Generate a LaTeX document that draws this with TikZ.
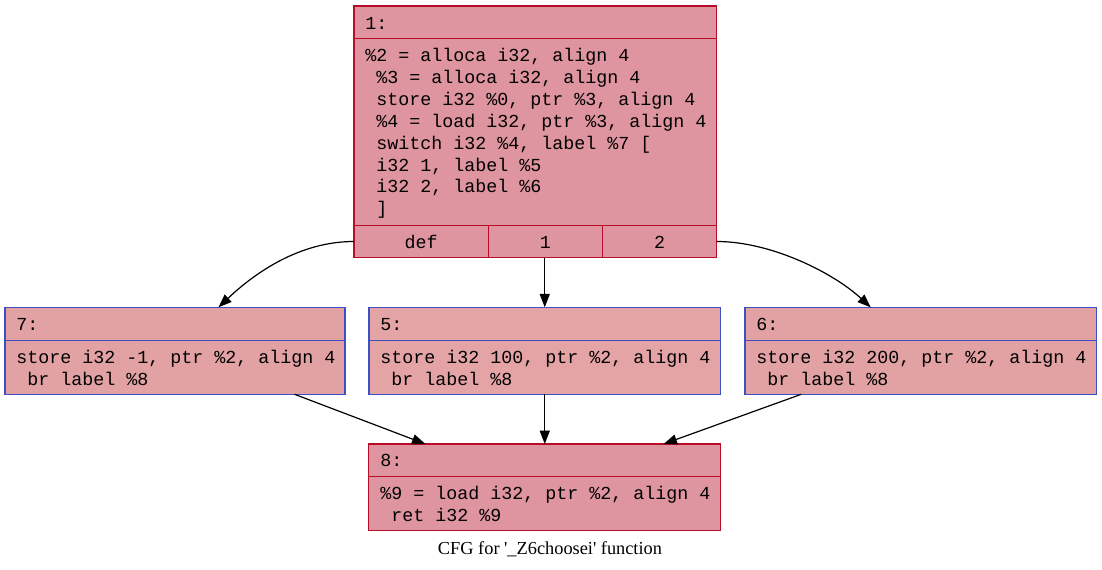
\documentclass[tikz,border=0pt]{standalone}
\usepackage{fontspec}
\newfontfamily\codefont{Liberation Mono}
\newfontfamily\capfont{Liberation Serif}
\usetikzlibrary{arrows.meta}
\definecolor{redborder}{HTML}{B70D28}
\definecolor{blueborder}{HTML}{3D50C3}
\definecolor{redfill}{RGB}{223,149,160}
\definecolor{midfill}{RGB}{226,161,163}
\definecolor{lightfill}{RGB}{228,164,166}
\newcommand\codelines[1]{\vtop{\baselineskip=16.4pt\lineskip=0pt\lineskiplimit=-20pt #1}}
\newcommand\ind{\phantom{x}}
\tikzset{
  block/.style={draw, rectangle, inner sep=0pt, outer sep=0pt, anchor=north west, line width=0.8pt},
  hotblock/.style={block, draw=redborder, fill=redfill},
  warmblock/.style={block, draw=blueborder, fill=midfill},
  coolblock/.style={block, draw=blueborder, fill=lightfill},
  portcell/.style={draw=redborder, fill=redfill, rectangle, inner sep=0pt, outer sep=0pt, line width=0.8pt,
    font=\codefont\fontsize{13.75pt}{16.4pt}\selectfont, text height=10.5pt, text depth=0.75pt},
  code/.style={anchor=base west, inner sep=0pt, font=\codefont\fontsize{13.75pt}{16.4pt}\selectfont},
  edge/.style={draw, line width=0.9pt, -{Triangle[length=10pt,width=7.5pt]}}
}
\begin{document}
\begin{tikzpicture}[x=0.75pt,y=-0.75pt]
\useasboundingbox[fill=white] (0,0) rectangle (1102,570);

% block 1
\node[hotblock, minimum width=362.7*0.75pt, minimum height=251.7*0.75pt] (n1) at (354,6) {};
\draw[redborder, line width=0.8pt] (354,38.7) -- (716.7,38.7);
\node[portcell, minimum width=134.3*0.75pt, minimum height=32.4*0.75pt] (pdef) at (421.15,241.5) {def};
\node[portcell, minimum width=114*0.75pt, minimum height=32.4*0.75pt] (pone) at (545.3,241.5) {1};
\node[portcell, minimum width=114.4*0.75pt, minimum height=32.4*0.75pt] (ptwo) at (659.5,241.5) {2};
\node[code] (h1) at (365,29.3) {1:};
\node[code] (b1) at (365,61.7) {\codelines{%
\hbox{\%2 = alloca i32, align 4}
\hbox{\ind\%3 = alloca i32, align 4}
\hbox{\ind store i32 \%0, ptr \%3, align 4}
\hbox{\ind\%4 = load i32, ptr \%3, align 4}
\hbox{\ind switch i32 \%4, label \%7 [}
\hbox{\ind i32 1, label \%5}
\hbox{\ind i32 2, label \%6}
\hbox{\ind ]}}};

% block 7
\node[warmblock, minimum width=340*0.75pt, minimum height=87*0.75pt] (n7) at (5,307.3) {};
\draw[blueborder, line width=0.8pt] (5,340.3) -- (345,340.3);
\node[code] (h7) at (16,330) {7:};
\node[code] (b7) at (16,363.3) {\codelines{%
\hbox{store i32 -1, ptr \%2, align 4}
\hbox{\ind br label \%8}}};

% block 5
\node[coolblock, minimum width=351.5*0.75pt, minimum height=87*0.75pt] (n5) at (369,307.3) {};
\draw[blueborder, line width=0.8pt] (369,340.3) -- (720.5,340.3);
\node[code] (h5) at (380,330) {5:};
\node[code] (b5) at (380,363.3) {\codelines{%
\hbox{store i32 100, ptr \%2, align 4}
\hbox{\ind br label \%8}}};

% block 6
\node[warmblock, minimum width=351.5*0.75pt, minimum height=87*0.75pt] (n6) at (745,307.3) {};
\draw[blueborder, line width=0.8pt] (745,340.3) -- (1096.5,340.3);
\node[code] (h6) at (756,330) {6:};
\node[code] (b6) at (756,363.3) {\codelines{%
\hbox{store i32 200, ptr \%2, align 4}
\hbox{\ind br label \%8}}};

% block 8
\node[hotblock, minimum width=352.4*0.75pt, minimum height=86.7*0.75pt] (n8) at (368.3,444) {};
\draw[redborder, line width=0.8pt] (368.3,476.7) -- (720.7,476.7);
\node[code] (h8) at (380,466.7) {8:};
\node[code] (b8) at (380,499.5) {\codelines{%
\hbox{\%9 = load i32, ptr \%2, align 4}
\hbox{\ind ret i32 \%9}}};

% edges
\draw[edge] (pdef.west) .. controls +(-54,0) and +(37,-35) .. (n7.45);
\draw[edge] (n5.north |- pone.south) -- (n5.north);
\draw[edge] (ptwo.east) .. controls +(54,0) and +(-38,-35) .. (n6.139);
\draw[edge] (n7.-20) -- (n8.160);
\draw[edge] (n5.south) -- (n5.south |- n8.north);
\draw[edge] (n6.200) -- (n8.20);

% caption
\node[anchor=base, inner sep=0pt, font=\capfont\fontsize{13.75pt}{16pt}\selectfont] (cap) at (550,554) {CFG for '\_Z6choosei' function};
\end{tikzpicture}
\end{document}
